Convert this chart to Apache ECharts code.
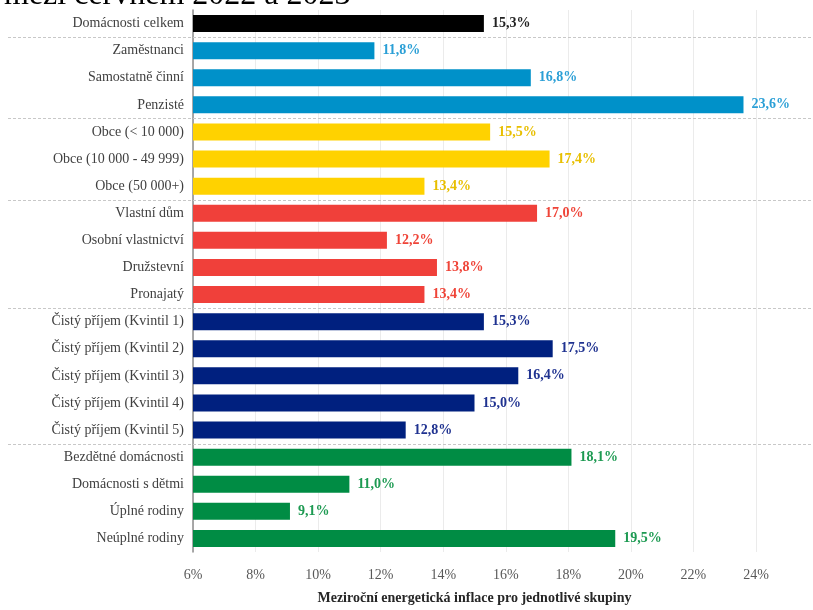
<!DOCTYPE html>
<html>
<head>
<meta charset="utf-8">
<script src="https://cdn.jsdelivr.net/npm/echarts@6/dist/echarts.min.js"></script>
<style>
  html, body { margin: 0; padding: 0; background: #fff; }
  #chart { width: 813px; height: 610px; }
</style>
</head>
<body>
<div id="chart"></div>
<script>
// Year-on-year energy inflation by household group (June 2022 – June 2023)
const categories = [
  'Domácnosti celkem',
  'Zaměstnanci', 'Samostatně činní', 'Penzisté',
  'Obce (< 10 000)', 'Obce (10 000 - 49 999)', 'Obce (50 000+)',
  'Vlastní dům', 'Osobní vlastnictví', 'Družstevní', 'Pronajatý',
  'Čistý příjem (Kvintil 1)', 'Čistý příjem (Kvintil 2)', 'Čistý příjem (Kvintil 3)',
  'Čistý příjem (Kvintil 4)', 'Čistý příjem (Kvintil 5)',
  'Bezdětné domácnosti', 'Domácnosti s dětmi', 'Úplné rodiny', 'Neúplné rodiny'
];
const values = [
  15.3,
  11.8, 16.8, 23.6,
  15.5, 17.4, 13.4,
  17.0, 12.2, 13.8, 13.4,
  15.3, 17.5, 16.4, 15.0, 12.8,
  18.1, 11.0, 9.1, 19.5
];
// number of categories in each consecutive group, and the group colours
const groupSizes = [1, 3, 3, 4, 5, 4];
const groupColors = ['#000000', '#0091c9', '#ffd200', '#f0403a', '#00207f', '#008c44'];
const labelColors = ['#222222', '#2a9fd6', '#e8bf00', '#ef4438', '#1f3290', '#1d9a52'];
const xTicks = [6, 8, 10, 12, 14, 16, 18, 20, 22, 24];

const serif = '"Liberation Serif", "Times New Roman", serif';

// group index of every category
const groupIndex = [];
groupSizes.forEach((n, g) => { for (let i = 0; i < n; i++) groupIndex.push(g); });

const chart = echarts.init(document.getElementById('chart'));

const fmt = v => v.toFixed(1).replace('.', ',') + '%';

chart.setOption({
  animation: false,
  title: {
    text: 'mezi červnem 2022 a 2023',
    left: -1,
    top: -25,
    textStyle: { fontFamily: serif, fontSize: 32, fontWeight: 'normal', color: '#000' }
  },
  grid: { left: 193, right: 57, top: 10, bottom: 53, containLabel: false },
  xAxis: {
    type: 'value',
    min: xTicks[0],
    max: xTicks[xTicks.length - 1],
    interval: 2,
    axisLine: { show: false },
    axisTick: { show: false },
    splitLine: { show: true, lineStyle: { color: '#ebebeb', width: 1 } },
    axisLabel: {
      formatter: v => v + '%',
      fontFamily: serif, fontSize: 14, color: '#595959', margin: 16
    },
    name: 'Meziroční energetická inflace pro jednotlivé skupiny',
    nameLocation: 'middle',
    nameGap: 39,
    nameTextStyle: { fontFamily: serif, fontSize: 14, fontWeight: 'bold', color: '#262626' }
  },
  yAxis: {
    type: 'category',
    data: categories,
    inverse: true,
    axisLine: { show: true, lineStyle: { color: '#8c8c8c', width: 1.5 } },
    axisTick: { show: false },
    splitLine: { show: false },
    axisLabel: { fontFamily: serif, fontSize: 14, color: '#404040', margin: 9 }
  },
  series: [{
    type: 'bar',
    barWidth: 17,
    data: values.map((v, i) => ({
      value: v,
      itemStyle: { color: groupColors[groupIndex[i]] },
      label: { color: labelColors[groupIndex[i]] }
    })),
    label: {
      show: true,
      position: 'right',
      distance: 8,
      formatter: p => fmt(p.value),
      fontFamily: serif, fontSize: 14, fontWeight: 'bold'
    }
  }]
});

// dashed separators between the groups, placed at the category band boundaries
function drawSeparators() {
  const lines = [];
  let idx = 0;
  for (let g = 0; g < groupSizes.length - 1; g++) {
    idx += groupSizes[g];
    const yA = chart.convertToPixel({ yAxisIndex: 0 }, categories[idx - 1]);
    const yB = chart.convertToPixel({ yAxisIndex: 0 }, categories[idx]);
    const y = Math.round((yA + yB) / 2) + 0.5;
    lines.push({
      type: 'line',
      silent: true,
      z: 5,
      shape: { x1: 8, y1: y, x2: chart.getWidth(), y2: y },
      style: { stroke: '#c8c8c8', lineWidth: 1, lineDash: [3, 2] }
    });
  }
  chart.setOption({ graphic: lines });
}
drawSeparators();
</script>
</body>
</html>
